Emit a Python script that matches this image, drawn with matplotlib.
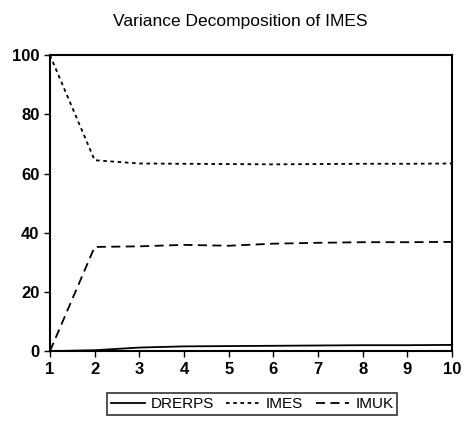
import matplotlib
matplotlib.use("Agg")
import matplotlib.pyplot as plt

periods = [1, 2, 3, 4, 5, 6, 7, 8, 9, 10]
drerps = [0.0, 0.3, 1.2, 1.6, 1.7, 1.8, 1.9, 2.0, 2.0, 2.1]
imes = [100.0, 64.5, 63.4, 63.3, 63.2, 63.1, 63.2, 63.3, 63.3, 63.4]
imuk = [0.0, 35.2, 35.4, 35.9, 35.6, 36.3, 36.6, 36.8, 36.8, 36.9]

plt.rcParams['font.family'] = ['Liberation Sans', 'DejaVu Sans']

fig = plt.figure(figsize=(4.67, 4.21), dpi=100)
ax = fig.add_axes([0.107, 0.166, 0.861, 0.703])

ax.plot(periods, drerps, color='black', lw=1.3, ls='-', label='DRERPS')
ax.plot(periods, imes, color='black', lw=1.3, ls=(0, (2, 2)), label='IMES')
ax.plot(periods, imuk, color='black', lw=1.3, ls=(0, (5, 3)), label='IMUK')

ax.set_xlim(1, 10)
ax.set_ylim(0, 100)
ax.set_xticks(periods)
ax.set_yticks([0, 20, 40, 60, 80, 100])
ax.tick_params(direction='out', length=4, width=1, labelsize=12)
for lbl in ax.get_xticklabels() + ax.get_yticklabels():
    lbl.set_fontweight('bold')
for s in ax.spines.values():
    s.set_linewidth(1.5)

fig.text(0.515, 0.95, 'Variance Decomposition of IMES', ha='center', va='center', fontsize=12.5)

leg = fig.legend(loc='center', bbox_to_anchor=(0.54, 0.04), ncol=3, frameon=True,
                 fancybox=False, edgecolor='black', fontsize=11, handlelength=2.2,
                 columnspacing=0.8, handletextpad=0.4, borderpad=0.25)
leg.get_frame().set_linewidth(1.2)

fig.savefig('out.png', dpi=100)
